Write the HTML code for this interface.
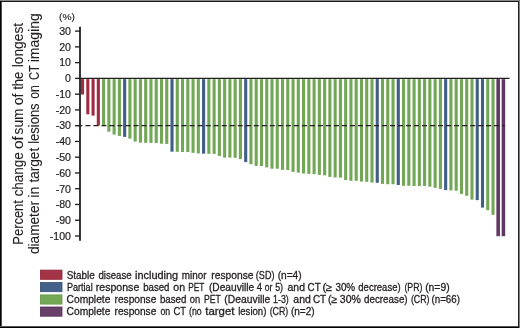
<!DOCTYPE html>
<html><head><meta charset="utf-8"><style>
html,body{margin:0;padding:0;background:#fff;}
#c{position:relative;width:520px;height:328px;overflow:hidden;background:#fff;}
#c svg{position:absolute;left:0;top:0;will-change:transform;}
.b{position:absolute;}
</style></head><body><div id="c">
<svg width="520" height="328" viewBox="0 0 520 328">
<g><rect x="81.00" y="79.1" width="3.10" height="15.40" fill="#a02c42"/><rect x="86.26" y="79.1" width="3.10" height="35.20" fill="#a02c42"/><rect x="91.53" y="79.1" width="3.10" height="36.50" fill="#a02c42"/><rect x="96.79" y="79.1" width="3.10" height="46.40" fill="#a02c42"/><rect x="102.05" y="79.1" width="3.10" height="46.60" fill="#72a755"/><rect x="107.31" y="79.1" width="3.10" height="52.60" fill="#72a755"/><rect x="112.58" y="79.1" width="3.10" height="55.50" fill="#72a755"/><rect x="117.84" y="79.1" width="3.10" height="56.80" fill="#72a755"/><rect x="123.10" y="79.1" width="3.10" height="57.80" fill="#415e87"/><rect x="128.36" y="79.1" width="3.10" height="59.50" fill="#72a755"/><rect x="133.62" y="79.1" width="3.10" height="62.40" fill="#72a755"/><rect x="138.89" y="79.1" width="3.10" height="63.50" fill="#72a755"/><rect x="144.15" y="79.1" width="3.10" height="63.70" fill="#72a755"/><rect x="149.41" y="79.1" width="3.10" height="63.80" fill="#72a755"/><rect x="154.68" y="79.1" width="3.10" height="63.80" fill="#72a755"/><rect x="159.94" y="79.1" width="3.10" height="64.60" fill="#72a755"/><rect x="165.20" y="79.1" width="3.10" height="64.80" fill="#72a755"/><rect x="170.46" y="79.1" width="3.10" height="72.60" fill="#415e87"/><rect x="175.73" y="79.1" width="3.10" height="72.70" fill="#72a755"/><rect x="180.99" y="79.1" width="3.10" height="72.90" fill="#72a755"/><rect x="186.25" y="79.1" width="3.10" height="72.90" fill="#72a755"/><rect x="191.51" y="79.1" width="3.10" height="73.70" fill="#72a755"/><rect x="196.78" y="79.1" width="3.10" height="74.30" fill="#72a755"/><rect x="202.04" y="79.1" width="3.10" height="74.60" fill="#415e87"/><rect x="207.30" y="79.1" width="3.10" height="74.70" fill="#72a755"/><rect x="212.56" y="79.1" width="3.10" height="74.80" fill="#72a755"/><rect x="217.83" y="79.1" width="3.10" height="76.90" fill="#72a755"/><rect x="223.09" y="79.1" width="3.10" height="78.50" fill="#72a755"/><rect x="228.35" y="79.1" width="3.10" height="78.50" fill="#72a755"/><rect x="233.61" y="79.1" width="3.10" height="78.70" fill="#72a755"/><rect x="238.88" y="79.1" width="3.10" height="80.00" fill="#72a755"/><rect x="244.14" y="79.1" width="3.10" height="83.00" fill="#415e87"/><rect x="249.40" y="79.1" width="3.10" height="85.10" fill="#72a755"/><rect x="254.66" y="79.1" width="3.10" height="86.80" fill="#72a755"/><rect x="259.93" y="79.1" width="3.10" height="86.90" fill="#72a755"/><rect x="265.19" y="79.1" width="3.10" height="88.30" fill="#72a755"/><rect x="270.45" y="79.1" width="3.10" height="89.60" fill="#72a755"/><rect x="275.71" y="79.1" width="3.10" height="89.60" fill="#72a755"/><rect x="280.98" y="79.1" width="3.10" height="90.70" fill="#72a755"/><rect x="286.24" y="79.1" width="3.10" height="90.90" fill="#72a755"/><rect x="291.50" y="79.1" width="3.10" height="92.80" fill="#72a755"/><rect x="296.76" y="79.1" width="3.10" height="93.50" fill="#72a755"/><rect x="302.02" y="79.1" width="3.10" height="94.40" fill="#72a755"/><rect x="307.29" y="79.1" width="3.10" height="94.80" fill="#72a755"/><rect x="312.55" y="79.1" width="3.10" height="95.10" fill="#72a755"/><rect x="317.81" y="79.1" width="3.10" height="95.70" fill="#72a755"/><rect x="323.08" y="79.1" width="3.10" height="96.20" fill="#72a755"/><rect x="328.34" y="79.1" width="3.10" height="97.80" fill="#72a755"/><rect x="333.60" y="79.1" width="3.10" height="98.30" fill="#72a755"/><rect x="338.86" y="79.1" width="3.10" height="98.50" fill="#72a755"/><rect x="344.12" y="79.1" width="3.10" height="100.90" fill="#72a755"/><rect x="349.39" y="79.1" width="3.10" height="101.70" fill="#72a755"/><rect x="354.65" y="79.1" width="3.10" height="101.70" fill="#72a755"/><rect x="359.91" y="79.1" width="3.10" height="102.50" fill="#72a755"/><rect x="365.18" y="79.1" width="3.10" height="102.70" fill="#72a755"/><rect x="370.44" y="79.1" width="3.10" height="103.50" fill="#72a755"/><rect x="375.70" y="79.1" width="3.10" height="103.70" fill="#415e87"/><rect x="380.96" y="79.1" width="3.10" height="104.80" fill="#72a755"/><rect x="386.23" y="79.1" width="3.10" height="105.10" fill="#72a755"/><rect x="391.49" y="79.1" width="3.10" height="105.10" fill="#72a755"/><rect x="396.75" y="79.1" width="3.10" height="105.90" fill="#415e87"/><rect x="402.01" y="79.1" width="3.10" height="106.70" fill="#72a755"/><rect x="407.28" y="79.1" width="3.10" height="106.70" fill="#72a755"/><rect x="412.54" y="79.1" width="3.10" height="106.90" fill="#72a755"/><rect x="417.80" y="79.1" width="3.10" height="106.90" fill="#72a755"/><rect x="423.06" y="79.1" width="3.10" height="106.90" fill="#72a755"/><rect x="428.32" y="79.1" width="3.10" height="107.50" fill="#72a755"/><rect x="433.59" y="79.1" width="3.10" height="108.70" fill="#72a755"/><rect x="438.85" y="79.1" width="3.10" height="109.80" fill="#72a755"/><rect x="444.11" y="79.1" width="3.10" height="111.00" fill="#415e87"/><rect x="449.38" y="79.1" width="3.10" height="111.30" fill="#72a755"/><rect x="454.64" y="79.1" width="3.10" height="111.60" fill="#72a755"/><rect x="459.90" y="79.1" width="3.10" height="114.80" fill="#72a755"/><rect x="465.16" y="79.1" width="3.10" height="116.70" fill="#72a755"/><rect x="470.43" y="79.1" width="3.10" height="120.50" fill="#72a755"/><rect x="475.69" y="79.1" width="3.10" height="121.00" fill="#415e87"/><rect x="480.95" y="79.1" width="3.10" height="128.50" fill="#415e87"/><rect x="486.21" y="79.1" width="3.10" height="131.00" fill="#72a755"/><rect x="491.48" y="79.1" width="3.10" height="135.70" fill="#72a755"/><rect x="496.39" y="79.1" width="3.55" height="157.10" fill="#613764"/><rect x="501.65" y="79.1" width="3.55" height="157.10" fill="#613764"/></g>
<g stroke="#231f20" stroke-width="1.3" fill="none">
<line x1="80" y1="26.7" x2="80" y2="240.8" stroke-width="1.8"/>
<line x1="79.4" y1="78.45" x2="509.5" y2="78.45"/>
<line x1="75.0" y1="31.12" x2="80" y2="31.12" stroke-width="1.35"/><line x1="75.0" y1="46.88" x2="80" y2="46.88" stroke-width="1.35"/><line x1="75.0" y1="62.64" x2="80" y2="62.64" stroke-width="1.35"/><line x1="75.0" y1="78.40" x2="80" y2="78.40" stroke-width="1.35"/><line x1="75.0" y1="94.16" x2="80" y2="94.16" stroke-width="1.35"/><line x1="75.0" y1="109.92" x2="80" y2="109.92" stroke-width="1.35"/><line x1="75.0" y1="125.68" x2="80" y2="125.68" stroke-width="1.35"/><line x1="75.0" y1="141.44" x2="80" y2="141.44" stroke-width="1.35"/><line x1="75.0" y1="157.20" x2="80" y2="157.20" stroke-width="1.35"/><line x1="75.0" y1="172.96" x2="80" y2="172.96" stroke-width="1.35"/><line x1="75.0" y1="188.72" x2="80" y2="188.72" stroke-width="1.35"/><line x1="75.0" y1="204.48" x2="80" y2="204.48" stroke-width="1.35"/><line x1="75.0" y1="220.24" x2="80" y2="220.24" stroke-width="1.35"/><line x1="75.0" y1="236.00" x2="80" y2="236.00" stroke-width="1.35"/>
<line x1="77.4" y1="125.6" x2="504.5" y2="125.6" stroke-dasharray="5 3.015"/>
</g>
<g font-family="Liberation Sans, sans-serif" font-size="10.6" fill="#231f20" text-anchor="end" stroke="#231f20" stroke-width="0.2">
<text x="71" y="34.92">30</text><text x="71" y="50.68">20</text><text x="71" y="66.44">10</text><text x="71" y="82.20">0</text><text x="71" y="97.96">-10</text><text x="71" y="113.72">-20</text><text x="71" y="129.48">-30</text><text x="71" y="145.24">-40</text><text x="71" y="161.00">-50</text><text x="71" y="176.76">-60</text><text x="71" y="192.52">-70</text><text x="71" y="208.28">-80</text><text x="71" y="224.04">-90</text><text x="71" y="239.80">-100</text>
</g>
<text x="59.1" y="20.4" textLength="15.9" lengthAdjust="spacingAndGlyphs" font-family="Liberation Sans, sans-serif" font-size="9.5" fill="#231f20" stroke="#231f20" stroke-width="0.15">(%)</text>
<g font-family="Liberation Sans, sans-serif" font-size="14.4" fill="#231f20" stroke="#231f20" stroke-width="0.1">
<text transform="translate(22.9,244.66) rotate(-90)" textLength="44.56" lengthAdjust="spacingAndGlyphs">Percent</text><text transform="translate(22.9,196.37) rotate(-90)" textLength="44.17" lengthAdjust="spacingAndGlyphs">change</text><text transform="translate(22.9,149.05) rotate(-90)" textLength="12.82" lengthAdjust="spacingAndGlyphs">of</text><text transform="translate(22.9,134.38) rotate(-90)" textLength="25.88" lengthAdjust="spacingAndGlyphs">sum</text><text transform="translate(22.9,105.30) rotate(-90)" textLength="11.88" lengthAdjust="spacingAndGlyphs">of</text><text transform="translate(22.9,89.80) rotate(-90)" textLength="18.18" lengthAdjust="spacingAndGlyphs">the</text><text transform="translate(22.9,67.23) rotate(-90)" textLength="44.33" lengthAdjust="spacingAndGlyphs">longest</text><text transform="translate(38.6,254.07) rotate(-90)" textLength="53.10" lengthAdjust="spacingAndGlyphs">diameter</text><text transform="translate(38.6,197.65) rotate(-90)" textLength="11.08" lengthAdjust="spacingAndGlyphs">in</text><text transform="translate(38.6,182.51) rotate(-90)" textLength="34.70" lengthAdjust="spacingAndGlyphs">target</text><text transform="translate(38.6,143.77) rotate(-90)" textLength="40.34" lengthAdjust="spacingAndGlyphs">lesions</text><text transform="translate(38.6,98.81) rotate(-90)" textLength="13.61" lengthAdjust="spacingAndGlyphs">on</text><text transform="translate(38.6,80.07) rotate(-90)" textLength="14.93" lengthAdjust="spacingAndGlyphs">CT</text><text transform="translate(38.6,62.24) rotate(-90)" textLength="49.04" lengthAdjust="spacingAndGlyphs">imaging</text>
</g>
<g stroke-width="0.8">
<rect x="40.4" y="270.1" width="21.6" height="9.2" fill="#a33446" stroke="#94203a"/>
<rect x="40.4" y="282.5" width="21.6" height="9.2" fill="#446189" stroke="#34507a"/>
<rect x="40.4" y="294.9" width="21.6" height="9.2" fill="#74a857" stroke="#62983f"/>
<rect x="40.4" y="307.0" width="21.6" height="9.2" fill="#684069" stroke="#582e59"/>
</g>
<g font-family="Liberation Sans, sans-serif" font-size="10.6" fill="#231f20" stroke="#231f20" stroke-width="0.3">
<text x="66.65" y="278.8" textLength="28.19" lengthAdjust="spacingAndGlyphs">Stable</text><text x="98.39" y="278.8" textLength="33.34" lengthAdjust="spacingAndGlyphs">disease</text><text x="135.07" y="278.8" textLength="43.14" lengthAdjust="spacingAndGlyphs">including</text><text x="181.84" y="278.8" textLength="24.72" lengthAdjust="spacingAndGlyphs">minor</text><text x="211.32" y="278.8" textLength="42.24" lengthAdjust="spacingAndGlyphs">response</text><text x="255.84" y="278.8" textLength="18.62" lengthAdjust="spacingAndGlyphs">(SD)</text><text x="277.67" y="278.8" textLength="23.96" lengthAdjust="spacingAndGlyphs">(n=4)</text><text x="66.95" y="290.8" textLength="25.75" lengthAdjust="spacingAndGlyphs">Partial</text><text x="95.80" y="290.8" textLength="43.47" lengthAdjust="spacingAndGlyphs">response</text><text x="143.18" y="290.8" textLength="26.24" lengthAdjust="spacingAndGlyphs">based</text><text x="173.35" y="290.8" textLength="11.84" lengthAdjust="spacingAndGlyphs">on</text><text x="188.22" y="290.8" textLength="16.07" lengthAdjust="spacingAndGlyphs">PET</text><text x="208.97" y="290.8" textLength="45.18" lengthAdjust="spacingAndGlyphs">(Deauville</text><text x="256.78" y="290.8" textLength="5.30" lengthAdjust="spacingAndGlyphs">4</text><text x="264.74" y="290.8" textLength="7.60" lengthAdjust="spacingAndGlyphs">or</text><text x="275.14" y="290.8" textLength="7.91" lengthAdjust="spacingAndGlyphs">5)</text><text x="287.56" y="290.8" textLength="17.42" lengthAdjust="spacingAndGlyphs">and</text><text x="307.60" y="290.8" textLength="13.02" lengthAdjust="spacingAndGlyphs">CT</text><text x="322.41" y="290.8" textLength="9.84" lengthAdjust="spacingAndGlyphs">(≥</text><text x="335.42" y="290.8" textLength="19.73" lengthAdjust="spacingAndGlyphs">30%</text><text x="358.30" y="290.8" textLength="42.29" lengthAdjust="spacingAndGlyphs">decrease)</text><text x="404.46" y="290.8" textLength="17.99" lengthAdjust="spacingAndGlyphs">(PR)</text><text x="425.16" y="290.8" textLength="24.49" lengthAdjust="spacingAndGlyphs">(n=9)</text><text x="66.58" y="302.9" textLength="43.77" lengthAdjust="spacingAndGlyphs">Complete</text><text x="114.52" y="302.9" textLength="41.83" lengthAdjust="spacingAndGlyphs">response</text><text x="159.97" y="302.9" textLength="26.45" lengthAdjust="spacingAndGlyphs">based</text><text x="189.81" y="302.9" textLength="10.40" lengthAdjust="spacingAndGlyphs">on</text><text x="203.99" y="302.9" textLength="16.81" lengthAdjust="spacingAndGlyphs">PET</text><text x="224.36" y="302.9" textLength="45.90" lengthAdjust="spacingAndGlyphs">(Deauville</text><text x="273.03" y="302.9" textLength="15.72" lengthAdjust="spacingAndGlyphs">1-3)</text><text x="293.35" y="302.9" textLength="17.52" lengthAdjust="spacingAndGlyphs">and</text><text x="313.00" y="302.9" textLength="13.13" lengthAdjust="spacingAndGlyphs">CT</text><text x="328.06" y="302.9" textLength="9.17" lengthAdjust="spacingAndGlyphs">(≥</text><text x="339.80" y="302.9" textLength="21.08" lengthAdjust="spacingAndGlyphs">30%</text><text x="363.99" y="302.9" textLength="43.62" lengthAdjust="spacingAndGlyphs">decrease)</text><text x="410.95" y="302.9" textLength="18.59" lengthAdjust="spacingAndGlyphs">(CR)</text><text x="431.49" y="302.9" textLength="28.51" lengthAdjust="spacingAndGlyphs">(n=66)</text><text x="66.58" y="315.0" textLength="43.77" lengthAdjust="spacingAndGlyphs">Complete</text><text x="114.52" y="315.0" textLength="41.83" lengthAdjust="spacingAndGlyphs">response</text><text x="160.43" y="315.0" textLength="9.74" lengthAdjust="spacingAndGlyphs">on</text><text x="173.52" y="315.0" textLength="12.49" lengthAdjust="spacingAndGlyphs">CT</text><text x="189.06" y="315.0" textLength="12.61" lengthAdjust="spacingAndGlyphs">(no</text><text x="205.23" y="315.0" textLength="29.26" lengthAdjust="spacingAndGlyphs">target</text><text x="238.15" y="315.0" textLength="28.24" lengthAdjust="spacingAndGlyphs">lesion)</text><text x="269.65" y="315.0" textLength="18.59" lengthAdjust="spacingAndGlyphs">(CR)</text><text x="290.88" y="315.0" textLength="23.75" lengthAdjust="spacingAndGlyphs">(n=2)</text>
</g>
</svg>
<div class="b" style="left:0;top:0;width:520px;height:1px;background:#888"></div>
<div class="b" style="left:0;top:1px;width:519px;height:1px;background:#1a1a1a"></div>
<div class="b" style="left:0;top:1px;width:1px;height:327px;background:#000"></div>
<div class="b" style="left:1px;top:2px;width:1px;height:325px;background:#555"></div>
<div class="b" style="left:518px;top:1px;width:1px;height:327px;background:#222"></div>
<div class="b" style="left:519px;top:0;width:1px;height:328px;background:#808080"></div>
<div class="b" style="left:0;top:326px;width:518px;height:1px;background:#555"></div>
<div class="b" style="left:0;top:327px;width:519px;height:1px;background:#000"></div>
</div></body></html>
